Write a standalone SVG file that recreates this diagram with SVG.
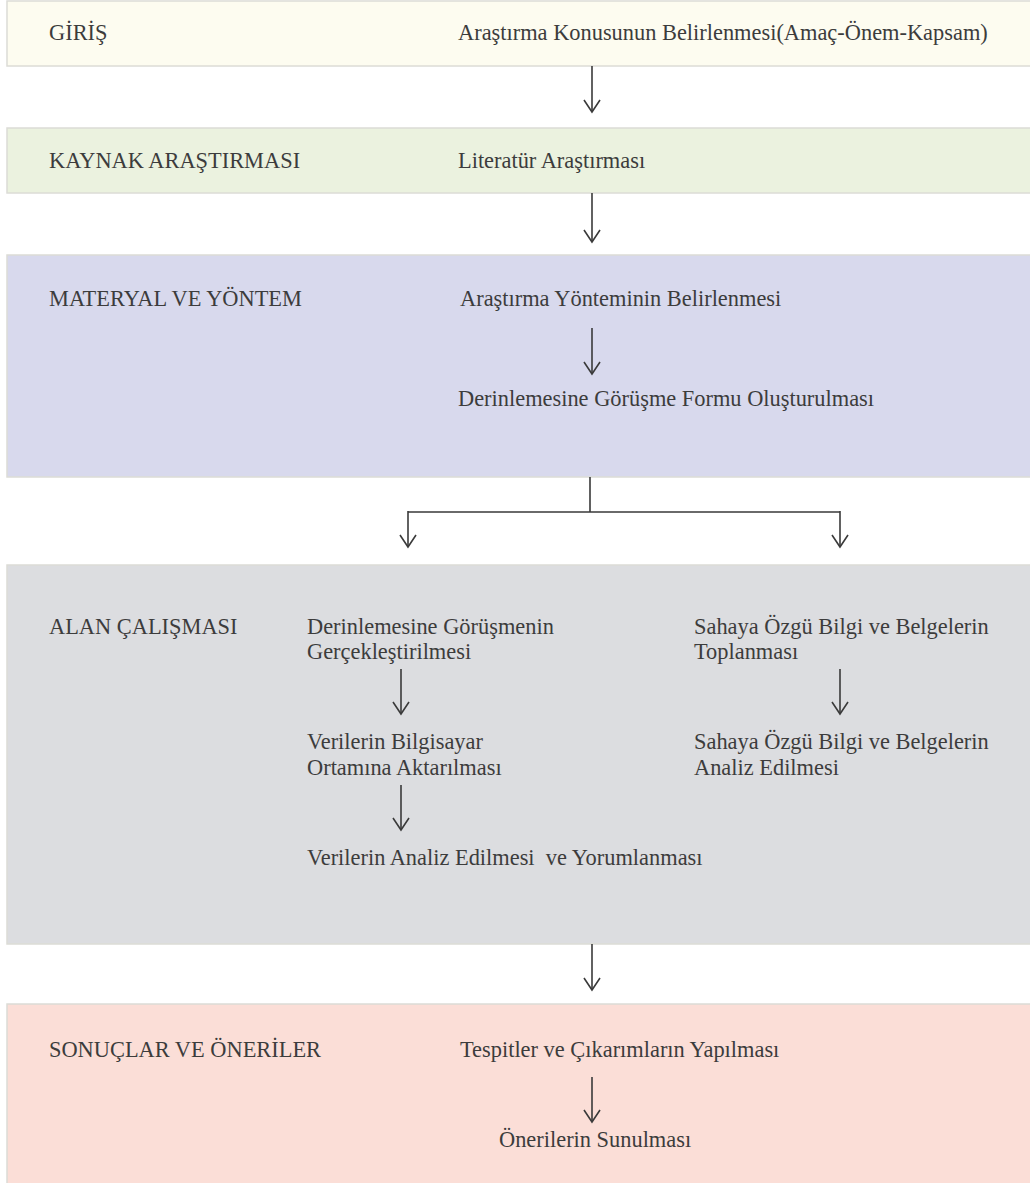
<svg xmlns="http://www.w3.org/2000/svg" width="1030" height="1183" viewBox="0 0 1030 1183">
<style>
.band{stroke:#dcdcd6;stroke-width:1.5}
.t{font-family:'Liberation Serif','Times New Roman',serif;font-size:22.4px;fill:#3c3c3c}
.c{fill:none;stroke:#3a3a3a;stroke-width:1.6}
</style>
<defs>
<marker id="ah" viewBox="0 0 14 18" refX="13" refY="9" markerWidth="14" markerHeight="18" markerUnits="userSpaceOnUse" orient="auto" overflow="visible">
<path d="M1,1 L13,9 L1,17" fill="none" stroke="#3a3a3a" stroke-width="1.6"/>
</marker>
</defs>
<rect width="1030" height="1183" fill="#ffffff"/>
<g id="giris">
<rect class="band" x="7" y="1" width="1030" height="65" fill="#fdfcf0"/>
<text class="t" x="49" y="40">GİRİŞ</text>
<text class="t" x="458" y="40">Araştırma Konusunun Belirlenmesi(Amaç-Önem-Kapsam)</text>
</g>
<g id="kaynak">
<rect class="band" x="7" y="128" width="1030" height="65" fill="#ebf2df"/>
<text class="t" x="49" y="168">KAYNAK ARAŞTIRMASI</text>
<text class="t" x="458" y="168">Literatür Araştırması</text>
</g>
<g id="materyal">
<rect class="band" x="7" y="255" width="1030" height="222" fill="#d8d9ed"/>
<text class="t" x="49" y="306">MATERYAL VE YÖNTEM</text>
<text class="t" x="460" y="306">Araştırma Yönteminin Belirlenmesi</text>
<text class="t" x="458" y="406">Derinlemesine Görüşme Formu Oluşturulması</text>
</g>
<g id="alan">
<rect class="band" x="7" y="565" width="1030" height="379" fill="#dcdde0"/>
<text class="t" x="49" y="634">ALAN ÇALIŞMASI</text>
<text class="t" x="307" y="634">Derinlemesine Görüşmenin</text>
<text class="t" x="307" y="659">Gerçekleştirilmesi</text>
<text class="t" x="307" y="749">Verilerin Bilgisayar</text>
<text class="t" x="307" y="775">Ortamına Aktarılması</text>
<text class="t" x="307" y="865" xml:space="preserve">Verilerin Analiz Edilmesi  ve Yorumlanması</text>
<text class="t" x="694" y="634">Sahaya Özgü Bilgi ve Belgelerin</text>
<text class="t" x="694" y="659">Toplanması</text>
<text class="t" x="694" y="749">Sahaya Özgü Bilgi ve Belgelerin</text>
<text class="t" x="694" y="775">Analiz Edilmesi</text>
</g>
<g id="sonuclar">
<rect class="band" x="7" y="1004" width="1030" height="190" fill="#fbded7"/>
<text class="t" x="49" y="1057">SONUÇLAR VE ÖNERİLER</text>
<text class="t" x="460" y="1057">Tespitler ve Çıkarımların Yapılması</text>
<text class="t" x="499" y="1147">Önerilerin Sunulması</text>
</g>
<g id="connectors">
<line class="c" x1="592" y1="66" x2="592" y2="112" marker-end="url(#ah)"/>
<line class="c" x1="592" y1="193" x2="592" y2="242" marker-end="url(#ah)"/>
<line class="c" x1="592" y1="328" x2="592" y2="374" marker-end="url(#ah)"/>
<path class="c" d="M590,477 V512 M408,512 H840" stroke-width="2"/>
<line class="c" x1="408" y1="511" x2="408" y2="547" marker-end="url(#ah)"/>
<line class="c" x1="840" y1="511" x2="840" y2="547" marker-end="url(#ah)"/>
<line class="c" x1="401" y1="669" x2="401" y2="714" marker-end="url(#ah)"/>
<line class="c" x1="401" y1="785" x2="401" y2="830" marker-end="url(#ah)"/>
<line class="c" x1="840" y1="669" x2="840" y2="714" marker-end="url(#ah)"/>
<line class="c" x1="592" y1="944" x2="592" y2="990" marker-end="url(#ah)"/>
<line class="c" x1="592" y1="1077" x2="592" y2="1122" marker-end="url(#ah)"/>
</g>
</svg>
